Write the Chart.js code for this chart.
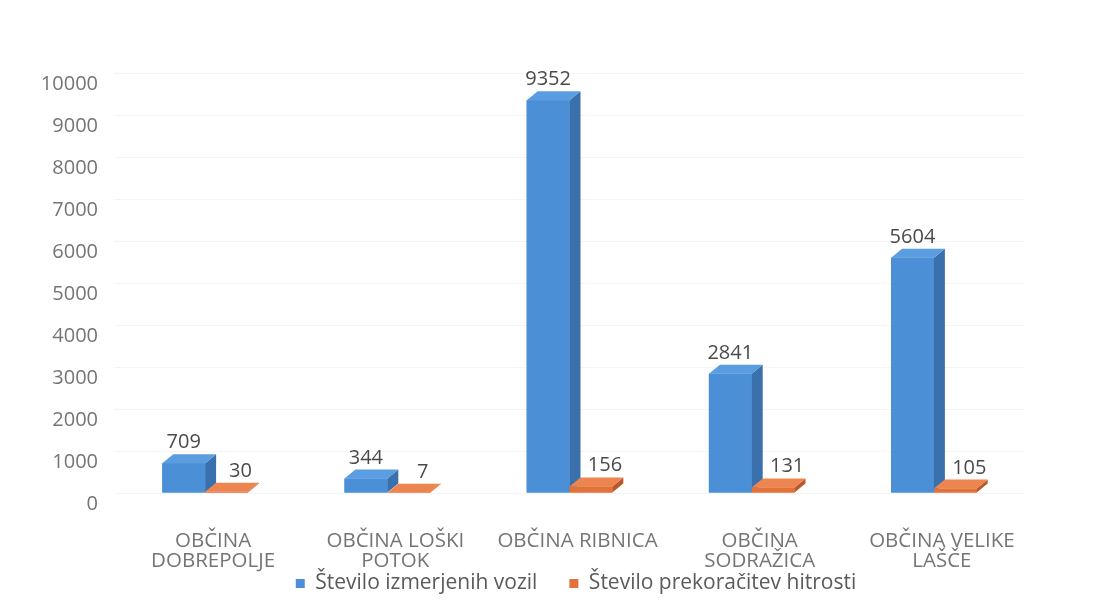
<!DOCTYPE html>
<html><head><meta charset="utf-8">
<script src="https://cdn.jsdelivr.net/npm/chart.js@4"></script>
<style>html,body{margin:0;padding:0;background:#fff}#wrap{width:1120px;height:616px;position:relative}</style>
</head><body><div id="wrap"><canvas id="c"></canvas></div>
<script>
const categories = [["OBČINA","DOBREPOLJE"],["OBČINA LOŠKI","POTOK"],"OBČINA RIBNICA",["OBČINA","SODRAŽICA"],["OBČINA VELIKE","LAŠČE"]];
const seriesNames = ["Število izmerjenih vozil","Število prekoračitev hitrosti"];
const measured = [709,344,9352,2841,5604];
const speeding = [30,7,156,131,105];
const yTickLabels = ["0","1000","2000","3000","4000","5000","6000","7000","8000","9000","10000"];
const yMax = 10000;
const yStep = 1000;

const FONT = "'Open Sans', 'DejaVu Sans', sans-serif";
const DX = 11, DY = 9;
const shades = [
  {front:'#4b8fd7', top:'#5a9de0', side:'#3a70ab', label:'#4a4a4a', lx:0},
  {front:'#e3713a', top:'#ec8550', side:'#b9592b', label:'#4a4a4a', lx:14}
];

const bar3d = {
  id:'bar3d',
  afterDatasetsDraw(chart){
    const ctx = chart.ctx;
    chart.data.datasets.forEach((ds, di) => {
      const s = shades[di];
      chart.getDatasetMeta(di).data.forEach(el => {
        const {x, y, base, width} = el.getProps(['x','y','base','width'], true);
        const l = x - width/2, r = x + width/2;
        ctx.save();
        ctx.fillStyle = s.front;
        ctx.fillRect(l, y, width, base - y);
        ctx.fillStyle = s.side;
        ctx.beginPath(); ctx.moveTo(r, y); ctx.lineTo(r+DX, y-DY); ctx.lineTo(r+DX, base-DY); ctx.lineTo(r, base); ctx.closePath(); ctx.fill();
        ctx.fillStyle = s.top;
        ctx.beginPath(); ctx.moveTo(l, y); ctx.lineTo(l+DX, y-DY); ctx.lineTo(r+DX, y-DY); ctx.lineTo(r, y); ctx.closePath(); ctx.fill();
        ctx.restore();
      });
    });
    chart.data.datasets.forEach((ds, di) => {
      const s = shades[di];
      chart.getDatasetMeta(di).data.forEach((el, i) => {
        const {x, y} = el.getProps(['x','y'], true);
        ctx.save();
        ctx.font = "20px " + FONT;
        ctx.fillStyle = s.label;
        ctx.textAlign = 'center';
        ctx.textBaseline = 'alphabetic';
        ctx.fillText(String(ds.data[i]), x + s.lx, y - DY - 6);
        ctx.restore();
      });
    });
  }
};

new Chart(document.getElementById('c'), {
  type:'bar',
  data:{
    labels: categories,
    datasets:[
      {label:seriesNames[0], data:measured, backgroundColor:shades[0].front, categoryPercentage:0.47, barPercentage:1},
      {label:seriesNames[1], data:speeding, backgroundColor:shades[1].front, categoryPercentage:0.47, barPercentage:1}
    ]
  },
  options:{
    responsive:true, maintainAspectRatio:false, animation:false,
    layout:{padding:{left:32, right:0, top:73, bottom:12}},
    plugins:{
      legend:{position:'bottom', labels:{boxWidth:9, boxHeight:9, padding:32, color:'#5a5a5a', font:{family:FONT, size:21}}},
      tooltip:{enabled:false}
    },
    scales:{
      x:{
        grid:{display:false, drawTicks:false}, border:{display:false},
        ticks:{color:'#757575', font:{family:FONT, size:20.5, lineHeight:'20px'}, mirror:true, padding:-58, labelOffset:8, maxRotation:0, autoSkip:false},
        afterFit(s){ s.height = 48; }
      },
      y:{
        min:0, max:yMax,
        grid:{color:'rgba(0,0,0,0.045)', drawTicks:false}, border:{display:false},
        ticks:{stepSize:yStep, color:'#757575', font:{family:FONT, size:20}, padding:16, labelOffset:11,
          callback:(v, i) => yTickLabels[i]},
        afterFit(s){ s.width = 82; }
      },
      y2:{
        position:'right', display:true, grid:{display:false, drawTicks:false}, border:{display:false},
        ticks:{display:false}, afterFit(s){ s.width = 95; }
      }
    }
  },
  plugins:[bar3d]
});
</script>
</body></html>
